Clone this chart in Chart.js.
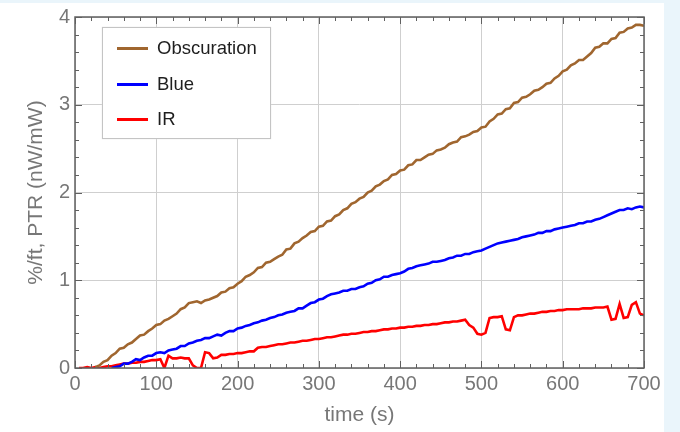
<!DOCTYPE html>
<html>
<head>
<meta charset="utf-8">
<script src="https://cdn.jsdelivr.net/npm/chart.js@4"></script>
<style>
  html, body { margin: 0; padding: 0; }
  body { width: 680px; height: 432px; background: #eaf5fb; position: relative; overflow: hidden; font-family: "Liberation Sans", Arial, sans-serif; }
  #panel { position: absolute; left: 0; top: 3px; width: 664px; height: 429px; background: #fff; }
  #wrap { position: absolute; left: 0; top: 0; width: 680px; height: 432px; }
  #legend { position: absolute; left: 102px; top: 27px; width: 167px; height: 110px; border: 1px solid #c4c4c4; background: #fff; box-shadow: 0 0 1px #ddd; }
  .leg-row { position: absolute; left: 0; height: 24px; line-height: 24px; font-size: 18.5px; color: #1e1e1e; white-space: nowrap; }
  .leg-line { position: absolute; left: 14px; top: 11px; width: 31px; height: 2.5px; }
  .leg-text { position: absolute; left: 54px; top: 0; }
</style>
</head>
<body>
<div id="panel"></div>
<div id="wrap"><canvas id="chart" width="680" height="432"></canvas></div>
<div id="legend"></div>
<script>
// time (s), one sample every 5 s
const time = [
  0, 5, 10, 15, 20, 25, 30, 35, 40, 45,
  50, 55, 60, 65, 70, 75, 80, 85, 90, 95,
  100, 105, 110, 115, 120, 125, 130, 135, 140, 145,
  150, 155, 160, 165, 170, 175, 180, 185, 190, 195,
  200, 205, 210, 215, 220, 225, 230, 235, 240, 245,
  250, 255, 260, 265, 270, 275, 280, 285, 290, 295,
  300, 305, 310, 315, 320, 325, 330, 335, 340, 345,
  350, 355, 360, 365, 370, 375, 380, 385, 390, 395,
  400, 405, 410, 415, 420, 425, 430, 435, 440, 445,
  450, 455, 460, 465, 470, 475, 480, 485, 490, 495,
  500, 505, 510, 515, 520, 525, 530, 535, 540, 545,
  550, 555, 560, 565, 570, 575, 580, 585, 590, 595,
  600, 605, 610, 615, 620, 625, 630, 635, 640, 645,
  650, 655, 660, 665, 670, 675, 680, 685, 690, 695,
  700
];

const obscuration = [
  null, null, null, null, null, 0.01, 0.03, 0.07, 0.09, 0.14,
  0.17, 0.22, 0.23, 0.27, 0.29, 0.33, 0.37, 0.38, 0.42, 0.45,
  0.49, 0.50, 0.54, 0.56, 0.59, 0.62, 0.67, 0.69, 0.74, 0.75,
  0.76, 0.74, 0.77, 0.78, 0.80, 0.82, 0.86, 0.87, 0.91, 0.92,
  0.96, 0.99, 1.04, 1.06, 1.09, 1.14, 1.15, 1.20, 1.21, 1.24,
  1.27, 1.29, 1.35, 1.36, 1.42, 1.44, 1.48, 1.51, 1.55, 1.56,
  1.61, 1.62, 1.67, 1.68, 1.73, 1.75, 1.80, 1.82, 1.87, 1.89,
  1.93, 1.95, 2.00, 2.02, 2.07, 2.09, 2.13, 2.15, 2.20, 2.21,
  2.25, 2.26, 2.31, 2.32, 2.37, 2.37, 2.40, 2.43, 2.44, 2.48,
  2.49, 2.51, 2.55, 2.57, 2.58, 2.63, 2.64, 2.66, 2.69, 2.70,
  2.74, 2.75, 2.81, 2.84, 2.89, 2.90, 2.95, 2.96, 3.02, 3.03,
  3.08, 3.09, 3.12, 3.16, 3.17, 3.20, 3.24, 3.25, 3.30, 3.33,
  3.38, 3.40, 3.45, 3.47, 3.51, 3.51, 3.55, 3.59, 3.65, 3.66,
  3.70, 3.70, 3.75, 3.76, 3.82, 3.83, 3.87, 3.88, 3.91, 3.91,
  3.90
];

const blue = [
  null, null, null, null, null, null, null, null, null, 0.00,
  0.01, 0.02, 0.05, 0.05, 0.07, 0.10, 0.09, 0.12, 0.14, 0.14,
  0.17, 0.18, 0.17, 0.20, 0.21, 0.22, 0.25, 0.25, 0.28, 0.29,
  0.31, 0.32, 0.34, 0.34, 0.36, 0.38, 0.37, 0.40, 0.42, 0.42,
  0.45, 0.46, 0.48, 0.49, 0.51, 0.52, 0.54, 0.55, 0.57, 0.58,
  0.60, 0.61, 0.63, 0.64, 0.65, 0.68, 0.68, 0.71, 0.74, 0.75,
  0.78, 0.79, 0.82, 0.84, 0.85, 0.86, 0.88, 0.88, 0.90, 0.90,
  0.92, 0.93, 0.96, 0.97, 1.00, 1.01, 1.04, 1.04, 1.06, 1.07,
  1.08, 1.10, 1.13, 1.14, 1.16, 1.17, 1.18, 1.19, 1.21, 1.21,
  1.22, 1.23, 1.25, 1.26, 1.28, 1.28, 1.30, 1.30, 1.32, 1.33,
  1.34, 1.36, 1.38, 1.40, 1.42, 1.43, 1.44, 1.45, 1.46, 1.47,
  1.49, 1.50, 1.51, 1.52, 1.54, 1.54, 1.56, 1.56, 1.58, 1.59,
  1.60, 1.61, 1.62, 1.63, 1.65, 1.65, 1.67, 1.67, 1.69, 1.70,
  1.72, 1.74, 1.76, 1.78, 1.80, 1.80, 1.82, 1.81, 1.83, 1.84,
  1.83
];

const ir = [
  null, 0.00, 0.00, 0.01, 0.00, 0.01, 0.00, 0.01, 0.02, 0.02,
  0.03, 0.04, 0.05, 0.05, 0.06, 0.06, 0.07, 0.07, 0.08, 0.09,
  0.09, 0.10, 0.00, 0.14, 0.11, 0.11, 0.12, 0.11, 0.11, 0.03,
  0.00, 0.00, 0.18, 0.17, 0.11, 0.12, 0.15, 0.15, 0.16, 0.16,
  0.17, 0.17, 0.18, 0.19, 0.19, 0.23, 0.24, 0.24, 0.25, 0.26,
  0.27, 0.27, 0.28, 0.29, 0.29, 0.30, 0.31, 0.31, 0.32, 0.33,
  0.33, 0.34, 0.35, 0.35, 0.36, 0.37, 0.38, 0.38, 0.39, 0.39,
  0.40, 0.41, 0.41, 0.42, 0.42, 0.43, 0.44, 0.44, 0.45, 0.45,
  0.46, 0.46, 0.47, 0.47, 0.48, 0.48, 0.49, 0.49, 0.50, 0.50,
  0.51, 0.52, 0.52, 0.53, 0.53, 0.54, 0.55, 0.49, 0.46, 0.39,
  0.38, 0.40, 0.57, 0.58, 0.58, 0.59, 0.44, 0.43, 0.58, 0.60,
  0.60, 0.61, 0.62, 0.62, 0.63, 0.64, 0.64, 0.65, 0.65, 0.66,
  0.66, 0.67, 0.67, 0.67, 0.67, 0.68, 0.68, 0.68, 0.69, 0.69,
  0.69, 0.70, 0.55, 0.56, 0.73, 0.57, 0.58, 0.72, 0.75, 0.62,
  0.60
];

const seriesNames = ['Obscuration', 'Blue', 'IR'];
const seriesColors = ['#a0662f', '#0000ff', '#ff0000'];
const xTicks = [0, 100, 200, 300, 400, 500, 600, 700];
const yTicks = [0, 1, 2, 3, 4];
const xTitle = 'time (s)';
const yTitle = '%/ft, PTR (nW/mW)';

const labelGray = '#777777';
const frameGray = '#606060';

// frame + inward major/minor ticks on all four sides
const framePlugin = {
    id: 'frame',
    afterDatasetsDraw(chart) {
        const { ctx, chartArea: a, scales: { x, y } } = chart;
        ctx.save();
        ctx.strokeStyle = frameGray;
        ctx.lineWidth = 1;
        for (let v = 0; v <= 700; v += 20) {
            const px = Math.round(x.getPixelForValue(v)) + 0.5;
            const len = v % 100 === 0 ? 7 : 4;
            ctx.beginPath();
            ctx.moveTo(px, a.bottom); ctx.lineTo(px, a.bottom - len);
            ctx.moveTo(px, a.top); ctx.lineTo(px, a.top + len);
            ctx.stroke();
        }
        for (let i = 0; i <= 20; i++) {
            const py = Math.round(y.getPixelForValue(i * 0.2)) + 0.5;
            const len = i % 5 === 0 ? 7 : 4;
            ctx.beginPath();
            ctx.moveTo(a.left, py); ctx.lineTo(a.left + len, py);
            ctx.moveTo(a.right, py); ctx.lineTo(a.right - len, py);
            ctx.stroke();
        }
        ctx.lineWidth = 1.5;
        ctx.strokeRect(a.left, a.top, a.right - a.left, a.bottom - a.top);
        ctx.restore();
    }
};

const tickFont = { family: '"Liberation Sans", Arial, sans-serif', size: 20 };
const titleFont = { family: '"Liberation Sans", Arial, sans-serif', size: 21 };

const chart = new Chart(document.getElementById('chart'), {
    type: 'line',
    data: {
        labels: time,
        datasets: [obscuration, blue, ir].map((d, i) => ({
            label: seriesNames[i],
            data: d,
            borderColor: seriesColors[i],
            backgroundColor: seriesColors[i],
            borderWidth: 2.6,
            pointRadius: 0,
            tension: 0,
            fill: false,
            spanGaps: false
        }))
    },
    options: {
        responsive: false,
        animation: false,
        devicePixelRatio: 1,
        layout: { padding: { top: 14, right: 36, left: 0, bottom: 0 } },
        plugins: { legend: { display: false }, tooltip: { enabled: false } },
        scales: {
            x: {
                type: 'linear',
                min: 0, max: 700,
                afterBuildTicks: s => { s.ticks = xTicks.map(v => ({ value: v })); },
                afterFit: s => { s.height = 64; },
                ticks: { color: labelGray, font: tickFont, padding: 4, maxRotation: 0 },
                grid: { color: '#cfcfcf', lineWidth: 1, drawTicks: false },
                border: { display: false },
                title: { display: true, text: xTitle, color: labelGray, font: titleFont, padding: { top: 0, bottom: 4 } }
            },
            y: {
                type: 'linear',
                min: 0, max: 4,
                afterBuildTicks: s => { s.ticks = yTicks.map(v => ({ value: v })); },
                afterFit: s => { s.width = 75; },
                ticks: { color: labelGray, font: tickFont, padding: 5 },
                grid: { color: '#cfcfcf', lineWidth: 1, drawTicks: false },
                border: { display: false },
                title: { display: true, text: yTitle, color: labelGray, font: titleFont, padding: { top: 24, bottom: 0 } }
            }
        }
    },
    plugins: [framePlugin]
});

// HTML legend built from the chart's datasets
const legend = document.getElementById('legend');
const rowTops = [8, 44, 79];
chart.data.datasets.forEach((ds, i) => {
    const row = document.createElement('div');
    row.className = 'leg-row';
    row.style.top = rowTops[i] + 'px';
    row.innerHTML = `<span class="leg-line" style="background:${ds.borderColor}"></span><span class="leg-text">${ds.label}</span>`;
    legend.appendChild(row);
});
</script>
</body>
</html>
